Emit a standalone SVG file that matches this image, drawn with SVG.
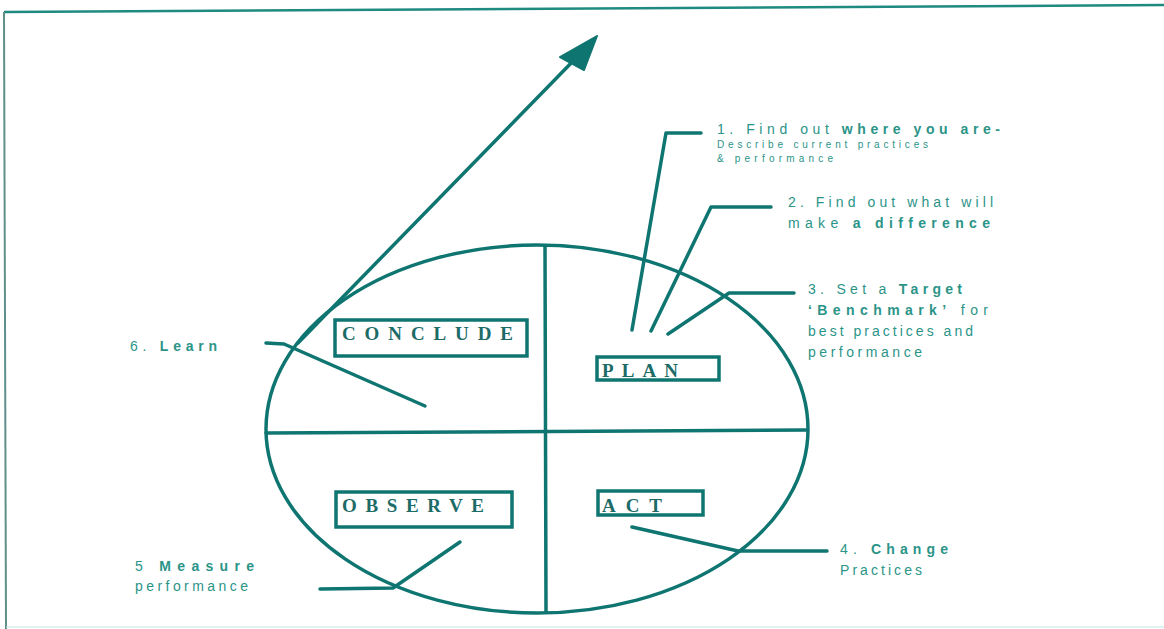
<svg xmlns="http://www.w3.org/2000/svg" width="1164" height="629" viewBox="0 0 1164 629">
<defs>
<style>
.ln{fill:none;stroke:#0f7571;stroke-width:3.5;stroke-linecap:round;stroke-linejoin:round}
.box{fill:#fff;stroke:#0f7571;stroke-width:3.5}
.bt{font-family:"Liberation Serif",serif;font-weight:bold;fill:#1d6b67;font-size:19px}
.lb{font-family:"Liberation Sans",Arial,sans-serif;fill:#2b9488;font-size:14px}
.sm{font-family:"Liberation Sans",Arial,sans-serif;fill:#2b9488;font-size:10px}
.b{font-weight:bold}
</style>
</defs>
<rect width="1164" height="629" fill="#fff"/>
<g id="frame">
<path d="M4,12 L1164,5" stroke="#1e8a80" stroke-width="2.5" fill="none"/>
<path d="M4,12 L6,629" stroke="#5e8f88" stroke-width="2" fill="none"/>
<path d="M6,627 L1164,627" stroke="#bfe3e3" stroke-width="1" fill="none"/>
</g>
<g id="cycle">
<ellipse cx="537" cy="429" rx="271" ry="184" class="ln" stroke-width="4"/>
<path d="M266,433 L806,430" class="ln"/>
<path d="M545,246 L546,612" class="ln"/>
</g>
<g id="connectors">
<path d="M298,343 L578,56" class="ln"/>
<path d="M597,36 L560,57 L584,70 z" fill="#0f7571" stroke="#0f7571" stroke-width="2" stroke-linejoin="round"/>
<path d="M632,330 L666,133 L701,133" class="ln"/>
<path d="M651,331 L711,207 L771,207" class="ln"/>
<path d="M668,334 L729,293 L794,293" class="ln"/>
<path d="M632,527 L738,551 L827,551" class="ln"/>
<path d="M460,542 L393,588 L320,589" class="ln"/>
<path d="M425,406 L284,344 L266,343" class="ln"/>
</g>
<g id="conclude">
<rect x="335" y="320" width="192" height="36" class="box"/>
<text x="342" y="340" class="bt" textLength="171" lengthAdjust="spacing">CONCLUDE</text>
</g>
<g id="plan">
<rect x="597" y="357" width="122" height="23" class="box"/>
<text x="602" y="377" class="bt" textLength="76" lengthAdjust="spacing">PLAN</text>
</g>
<g id="observe">
<rect x="336" y="492" width="176" height="35" class="box"/>
<text x="342" y="512" class="bt" textLength="142" lengthAdjust="spacing">OBSERVE</text>
</g>
<g id="act">
<rect x="598" y="491" width="105" height="24" class="box"/>
<text x="602" y="512" class="bt" textLength="60" lengthAdjust="spacing">ACT</text>
</g>
<g id="label1">
<text x="717" y="134" class="lb" font-size="13" textLength="283" lengthAdjust="spacing">1. Find out <tspan class="b">where you are-</tspan></text>
<text x="717" y="148" class="sm" textLength="211" lengthAdjust="spacing">Describe current practices</text>
<text x="717" y="162" class="sm" textLength="116" lengthAdjust="spacing">&amp; performance</text>
</g>
<g id="label2">
<text x="788" y="207" class="lb" textLength="205" lengthAdjust="spacing">2. Find out what will</text>
<text x="788" y="228" class="lb" textLength="202" lengthAdjust="spacing">make <tspan class="b">a difference</tspan></text>
</g>
<g id="label3">
<text x="808" y="294" class="lb" textLength="154" lengthAdjust="spacing">3. Set a <tspan class="b">Target</tspan></text>
<text x="808" y="315" class="lb" textLength="180" lengthAdjust="spacing"><tspan class="b">‘Benchmark’</tspan> for</text>
<text x="808" y="336" class="lb" textLength="165" lengthAdjust="spacing">best practices and</text>
<text x="808" y="357" class="lb" textLength="114" lengthAdjust="spacing">performance</text>
</g>
<g id="label4">
<text x="840" y="554" class="lb" textLength="108" lengthAdjust="spacing">4. <tspan class="b">Change</tspan></text>
<text x="840" y="575" class="lb" textLength="82" lengthAdjust="spacing">Practices</text>
</g>
<g id="label5">
<text x="135" y="571" class="lb" textLength="119" lengthAdjust="spacing">5 <tspan class="b">Measure</tspan></text>
<text x="135" y="591" class="lb" textLength="113" lengthAdjust="spacing">performance</text>
</g>
<g id="label6">
<text x="130" y="351" class="lb" textLength="87" lengthAdjust="spacing">6. <tspan class="b">Learn</tspan></text>
</g>
</svg>
